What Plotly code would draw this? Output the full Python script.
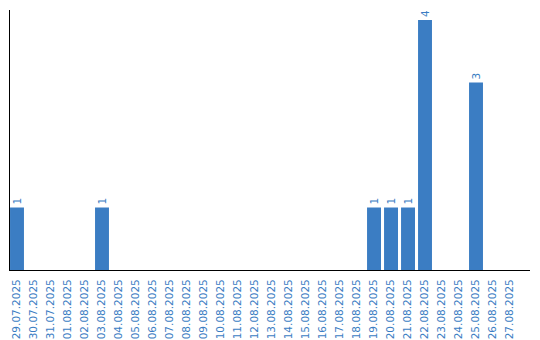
import plotly.graph_objects as go

dates = ["29.07.2025", "30.07.2025", "31.07.2025", "01.08.2025", "02.08.2025",
         "03.08.2025", "04.08.2025", "05.08.2025", "06.08.2025", "07.08.2025",
         "08.08.2025", "09.08.2025", "10.08.2025", "11.08.2025", "12.08.2025",
         "13.08.2025", "14.08.2025", "15.08.2025", "16.08.2025", "17.08.2025",
         "18.08.2025", "19.08.2025", "20.08.2025", "21.08.2025", "22.08.2025",
         "23.08.2025", "24.08.2025", "25.08.2025", "26.08.2025", "27.08.2025"]
counts = [1, 0, 0, 0, 0, 1, 0, 0, 0, 0, 0, 0, 0, 0, 0, 0, 0, 0, 0, 0,
          0, 1, 1, 1, 4, 0, 0, 3, 0, 0]

blue = "#3b7dc3"
labels = [str(v) if v > 0 else "" for v in counts]

fig = go.Figure(go.Bar(
    x=list(range(len(dates))), y=counts, width=0.82,
    marker=dict(color=blue, line=dict(width=0)),
    text=labels, textposition="outside", textangle=-90,
    textfont=dict(family="DejaVu Sans", size=10.5, color=blue),
    cliponaxis=False,
))
fig.update_layout(
    width=540, height=340,
    margin=dict(l=10, r=10, t=10, b=70, autoexpand=False),
    plot_bgcolor="white", paper_bgcolor="white",
    showlegend=False,
    xaxis=dict(range=[-0.412, 30.176], tickmode="array",
               tickvals=list(range(len(dates))), ticktext=dates,
               tickangle=-90, showgrid=False, zeroline=False,
               showline=True, linecolor="black", linewidth=1,
               ticks="", ticklabelstandoff=4, automargin=False,
               tickfont=dict(family="DejaVu Sans", size=10.5, color=blue)),
    yaxis=dict(range=[0, 4.16], showgrid=False, zeroline=False,
               showline=True, linecolor="black", linewidth=1,
               showticklabels=False, ticks="", automargin=False),
)
fig.write_html("out.html")
